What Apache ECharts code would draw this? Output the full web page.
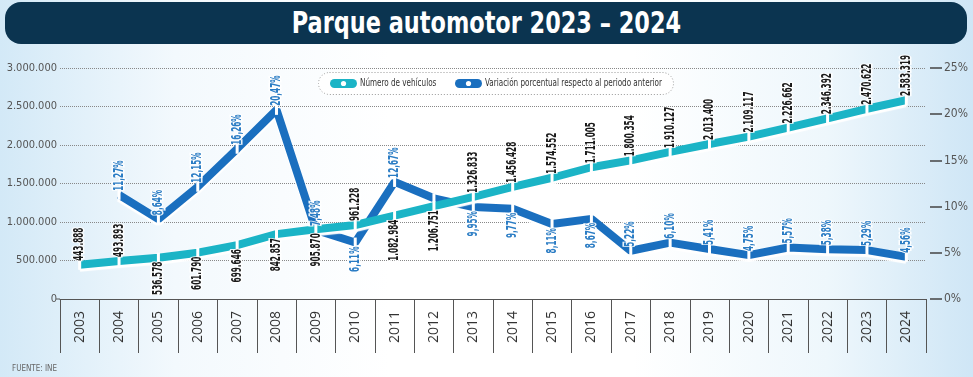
<!DOCTYPE html>
<html><head><meta charset="utf-8">
<script src="https://cdn.jsdelivr.net/npm/echarts@6/dist/echarts.min.js"></script>
<style>
html,body{margin:0;padding:0;width:973px;height:377px;overflow:hidden;}
body{background:linear-gradient(90deg,#d3e9f7 0%,#f3f9fd 18%,#ffffff 40%,#ffffff 65%,#eef7fc 85%,#cfe6f6 100%);}
#bar{position:absolute;left:5px;top:2px;width:962px;height:42px;background:#0b3450;border-radius:16px;text-align:center;line-height:42px;}
#bar span{display:inline-block;color:#fff;font-family:"DejaVu Sans Condensed","Roboto",sans-serif;font-weight:bold;font-size:30px;transform:scaleX(0.83);white-space:nowrap;}
#src{position:absolute;left:12px;top:364px;font-family:"DejaVu Sans Condensed",sans-serif;font-size:8px;color:#666;}
#c{position:absolute;left:0;top:0;width:973px;height:377px;}
</style></head>
<body>
<div id="bar"><span>Parque automotor 2023 – 2024</span></div>
<div id="c"></div>
<div id="src">FUENTE: INE</div>
<script>
const years = ['2003','2004','2005','2006','2007','2008','2009','2010','2011','2012','2013','2014','2015','2016','2017','2018','2019','2020','2021','2022','2023','2024'];
const vehicles = [443888,493893,536578,601790,699646,842857,905870,961228,1082984,1206751,1326833,1456428,1574552,1711005,1800354,1910127,2013400,2109117,2226662,2346392,2470622,2583319];
const variation = [null,11.27,8.64,12.15,16.26,20.47,7.48,6.11,12.67,10.9,9.95,9.77,8.11,8.67,5.22,6.10,5.41,4.75,5.57,5.38,5.29,4.56];
const vehLabelBelow = ['2005','2006','2007','2008','2009','2011','2012'];
const varLabelBelow = ['2010','2013','2014','2015','2016'];
const varLabelHidden = ['2012'];
const leftTicks = {min:0,max:3000000,interval:500000};
const rightTicks = {min:0,max:25,interval:5};
const seriesNames = ['Número de vehículos','Variación porcentual respecto al periodo anterior'];

const FONT = '"DejaVu Sans Condensed","Liberation Sans Narrow",sans-serif';
const fmtNum = v => String(Math.round(v)).replace(/\B(?=(\d{3})+(?!\d))/g,'.');
const fmtPct = v => v.toFixed(2).replace('.',',') + '%';

const CYAN = '#1bb4c6', BLUE = '#1a6fbf';

// label datasets: [categoryIndex, value, below(0/1)]
const vehLabelData = vehicles.map((v,i)=>[i, v, vehLabelBelow.includes(years[i])?1:0]);
const varLabelData = variation.map((v,i)=>[i, v, varLabelBelow.includes(years[i])?1:0])
  .filter(d=>d[1]!==null && !varLabelHidden.includes(years[d[0]]));

function labelRenderer(fmt, color){
  return function(params, api){
    const idx = api.value(0), val = api.value(1), below = api.value(2)===1;
    const pt = api.coord([idx, val]);
    const gap = 4;
    return {
      type:'text', x:pt[0], y: below ? pt[1]+gap : pt[1]-gap,
      rotation: Math.PI/2, scaleX:0.58, silent:true,
      style:{text:fmt(val), font:'bold 14px '+FONT, fill:color,
        align: below ? 'right' : 'left', verticalAlign:'middle',
        stroke:'rgba(255,255,255,0.9)', lineWidth:3, strokeFirst:true}
    };
  };
}

function legendItem(x, color, name, textX){
  return [
    {type:'rect',shape:{x:x,y:79,width:27,height:9,r:4.5},style:{fill:color}},
    {type:'circle',shape:{cx:x+13.5,cy:83.5,r:2.6},style:{fill:'#fff'}},
    {type:'text',x:textX,y:83.5,scaleX:0.73,originX:0,originY:0,
     style:{text:name,font:'11px '+FONT,fill:'#333',verticalAlign:'middle',textVerticalAlign:'middle'}}
  ];
}

const chart = echarts.init(document.getElementById('c'));
chart.setOption({
  animation:false,
  grid:{left:60,right:47,top:68,bottom:78},
  legend:{show:false},
  xAxis:{
    type:'category',data:years,boundaryGap:true,
    axisLine:{lineStyle:{color:'#555',width:1}},
    axisTick:{show:true,length:54,interval:0,lineStyle:{color:'#555'}},
    axisLabel:{rotate:90,interval:0,margin:12,fontFamily:'"Open Sans",sans-serif',fontSize:14,color:'#333'}
  },
  yAxis:[{
    type:'value',min:leftTicks.min,max:leftTicks.max,interval:leftTicks.interval,
    axisLine:{show:false},axisTick:{show:false},
    axisLabel:{formatter:fmtNum,fontFamily:FONT,fontSize:11,color:'#555',margin:3},
    splitLine:{lineStyle:{type:'dotted',color:'#888',width:1}}
  },{
    type:'value',position:'right',offset:4,min:rightTicks.min,max:rightTicks.max,interval:rightTicks.interval,
    axisLine:{show:false},axisTick:{show:true,length:12,inside:false,lineStyle:{color:'#444',width:1.5}},
    axisLabel:{formatter:v=>v+'%',fontFamily:FONT,fontSize:12,color:'#555',margin:14},
    splitLine:{show:false}
  }],
  series:[{
    name:seriesNames[1],type:'line',yAxisIndex:1,data:variation.map(v=>v===null?'-':v),
    lineStyle:{color:BLUE,width:8,shadowColor:'rgba(255,255,255,1)',shadowBlur:1,shadowOffsetY:3},
    itemStyle:{color:'#fff',borderWidth:0},
    symbol:'rect',symbolSize:[3,10],showAllSymbol:true,
    emphasis:{disabled:true},label:{show:false},z:2
  },{
    name:seriesNames[0],type:'line',yAxisIndex:0,data:vehicles,
    lineStyle:{color:CYAN,width:8,shadowColor:'rgba(255,255,255,1)',shadowBlur:1,shadowOffsetY:3},
    itemStyle:{color:'#fff',borderWidth:0},
    symbol:'rect',symbolSize:[3,10],showAllSymbol:true,
    emphasis:{disabled:true},label:{show:false},z:3
  },{
    type:'custom',name:'varLabels',yAxisIndex:1,data:varLabelData,encode:{x:0,y:1},
    renderItem:labelRenderer(fmtPct,'#2a7cc4'),silent:true,z:10
  },{
    type:'custom',name:'vehLabels',yAxisIndex:0,data:vehLabelData,encode:{x:0,y:1},
    renderItem:labelRenderer(fmtNum,'#1a1a1a'),silent:true,z:11
  }],
  graphic:[
    {type:'line',shape:{x1:56,y1:299,x2:60,y2:299},style:{stroke:'#555',lineWidth:1}},
    {type:'group',z:100,children:[
      {type:'rect',shape:{x:318.5,y:72.5,width:355,height:22,r:11},style:{fill:'#fff',stroke:'#999',lineWidth:1,lineDash:[1,2]}},
      ...legendItem(330, CYAN, seriesNames[0], 360),
      ...legendItem(455, BLUE, seriesNames[1], 485)
    ]}
  ]
});
</script>
</body></html>
